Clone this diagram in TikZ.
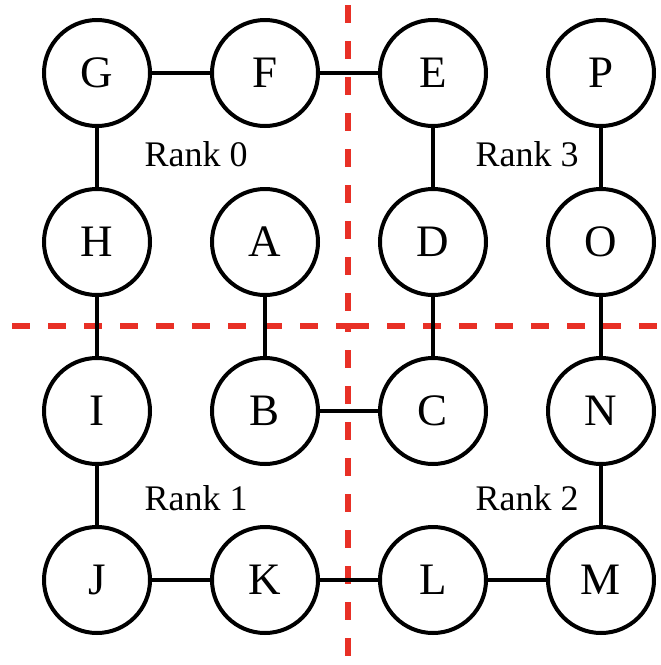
\documentclass[tikz,border=0pt]{standalone}
\usepackage{fontspec}
\setmainfont{Liberation Serif}
\definecolor{cutred}{RGB}{232,48,38}
\begin{document}
\begin{tikzpicture}[x=0.5pt,y=-0.5pt,
  vertex/.style={circle,draw=black,line width=2pt,minimum size=53pt,inner sep=0pt,
    font=\fontsize{22.5}{27}\selectfont},
  link/.style={line width=2pt,black},
  cut/.style={cutred,line width=2.6pt,dash pattern=on 9pt off 9pt},
  ranklabel/.style={font=\fontsize{18}{22}\selectfont,anchor=base}]
\useasboundingbox (0,0) rectangle (660,665);
% partition boundaries between the ranks
\draw[cut] (12,326) -- (348,326) -- (348,665);
\draw[cut] (348,5) -- (348,326) -- (660,326);
% grid of vertices
\node[vertex] (G) at (97,73) {G};
\node[vertex] (F) at (265,73) {F};
\node[vertex] (E) at (433,73) {E};
\node[vertex] (P) at (601,73) {P};
\node[vertex] (H) at (97,242) {H};
\node[vertex] (A) at (265,242) {A};
\node[vertex] (D) at (433,242) {D};
\node[vertex] (O) at (601,242) {O};
\node[vertex] (I) at (97,411) {I};
\node[vertex] (B) at (265,411) {B};
\node[vertex] (C) at (433,411) {C};
\node[vertex] (N) at (601,411) {N};
\node[vertex] (J) at (97,580) {J};
\node[vertex] (K) at (265,580) {K};
\node[vertex] (L) at (433,580) {L};
\node[vertex] (M) at (601,580) {M};
% edges
\draw[link] (G) -- (F);
\draw[link] (F) -- (E);
\draw[link] (G) -- (H);
\draw[link] (H) -- (I);
\draw[link] (A) -- (B);
\draw[link] (E) -- (D);
\draw[link] (D) -- (C);
\draw[link] (P) -- (O);
\draw[link] (O) -- (N);
\draw[link] (N) -- (M);
\draw[link] (B) -- (C);
\draw[link] (I) -- (J);
\draw[link] (J) -- (K);
\draw[link] (K) -- (L);
\draw[link] (L) -- (M);
% rank labels
\node[ranklabel] (r0) at (196,166) {Rank 0};
\node[ranklabel] (r3) at (527,166) {Rank 3};
\node[ranklabel] (r1) at (196,510) {Rank 1};
\node[ranklabel] (r2) at (527,510) {Rank 2};
\end{tikzpicture}
\end{document}
